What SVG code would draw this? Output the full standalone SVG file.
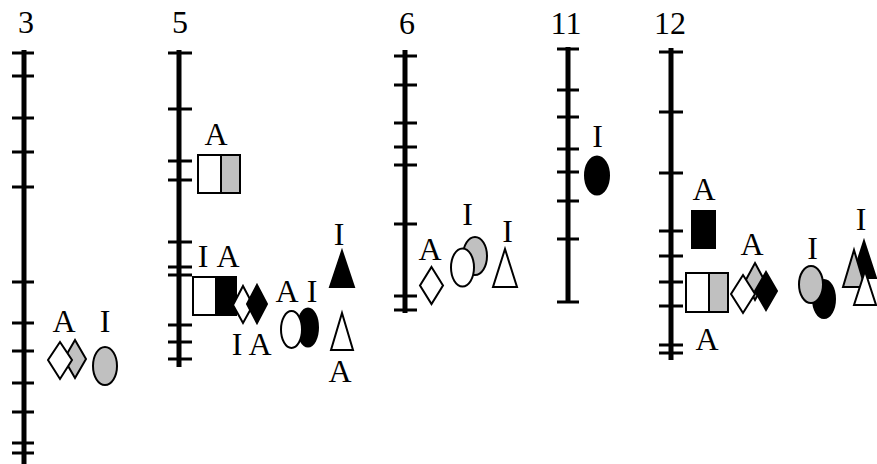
<svg xmlns="http://www.w3.org/2000/svg" width="877" height="464" viewBox="0 0 877 464">
<style>
text{font-family:"Liberation Serif","DejaVu Serif",serif;font-size:32px;fill:#000;text-anchor:middle}
.bar{stroke:#000;stroke-width:5;fill:none}
.tk{stroke:#000;stroke-width:3;fill:none}
.s{stroke:#000;stroke-width:2}
.w{fill:#fff}.g{fill:#c0c0c0}.b{fill:#000}
</style>
<rect width="877" height="464" fill="#fff"/>
<g id="chr3">
<text x="26" y="33">3</text>
<line class="bar" x1="24" y1="50" x2="24" y2="464"/>
<path class="tk" d="M12 53H34M12 76H34M12 118H34M12 152H34M12 187H34M12 282H34M12 323H34M12 351H34M12 383H34M12 412H34M12 443H34M12 453H34"/>
<text x="64" y="332">A</text>
<text x="105" y="332">I</text>
<path class="s g" d="M75 340L86 359L75 378L64 359Z"/>
<path class="s w" d="M60 342L72 360L60 379L48 360Z"/>
<ellipse class="s g" cx="105" cy="366" rx="12" ry="19"/>
</g>
<g id="chr5">
<text x="180" y="33">5</text>
<line class="bar" x1="179" y1="50" x2="179" y2="367"/>
<path class="tk" d="M168 53H192M168 109H192M168 161H192M168 180H192M168 242H192M168 267H192M168 275H192M168 325H192M168 342H192M168 359H192"/>
<text x="216" y="145">A</text>
<rect class="s w" x="198" y="155" width="23" height="38"/>
<rect class="s g" x="221" y="155" width="19" height="38"/>
<text x="203" y="267">I</text>
<text x="228" y="267">A</text>
<rect class="s w" x="193" y="277" width="23" height="38"/>
<rect class="s b" x="216" y="277" width="20" height="38"/>
<path class="s w" d="M243 286L253 305L243 323L233 305Z"/>
<path class="s b" d="M257 285L267 304L257 323L247 304Z"/>
<text x="237" y="355">I</text>
<text x="260" y="355">A</text>
<text x="287" y="302">A</text>
<text x="312" y="302">I</text>
<ellipse class="s b" cx="308" cy="327.5" rx="10" ry="19"/>
<ellipse class="s w" cx="291.5" cy="329.5" rx="10.5" ry="18.5"/>
<text x="339" y="245">I</text>
<path class="s b" d="M342 251L354 287H330Z"/>
<path class="s w" d="M342 313L353 350H331Z"/>
<text x="340" y="382">A</text>
</g>
<g id="chr6">
<text x="407" y="34">6</text>
<line class="bar" x1="405" y1="50" x2="405" y2="313"/>
<path class="tk" d="M394 56H417M394 85H417M394 123H417M394 147H417M394 165H417M394 224H417M394 296H417M394 310H417"/>
<text x="430" y="260">A</text>
<path class="s w" d="M431.5 267L443 285.5L431.5 304L420 285.5Z"/>
<text x="467.5" y="225">I</text>
<ellipse class="s g" cx="475" cy="256" rx="12" ry="19"/>
<ellipse class="s w" cx="462.5" cy="267.5" rx="11.5" ry="19"/>
<text x="507.5" y="242">I</text>
<path class="s w" d="M505 249L517 287H493Z"/>
</g>
<g id="chr11">
<text x="566" y="34">11</text>
<line class="bar" x1="568" y1="47" x2="568" y2="302"/>
<path class="tk" d="M557 49H579M557 90H579M557 117H579M557 149H579M557 172H579M557 201H579M557 239H579M557 302H579"/>
<text x="597.5" y="147">I</text>
<ellipse class="s b" cx="597" cy="175.5" rx="12" ry="19"/>
</g>
<g id="chr12">
<text x="670" y="34">12</text>
<line class="bar" x1="671" y1="48" x2="671" y2="360"/>
<path class="tk" d="M659 52H683M659 112H683M659 173H683M659 231H683M659 256H683M659 282H683M659 306H683M659 345H683M659 353H683"/>
<text x="704" y="200">A</text>
<rect class="b" x="691" y="210" width="25" height="39"/>
<rect class="s w" x="686" y="273" width="23" height="39"/>
<rect class="s g" x="709" y="273" width="19" height="39"/>
<text x="707" y="350">A</text>
<text x="752" y="255">A</text>
<path class="s g" d="M755 263L765 281.5L755 300L745 281.5Z"/>
<path class="s w" d="M743 275L755 294L743 313L731 294Z"/>
<path class="s b" d="M766 272L777 291L766 310L755 291Z"/>
<text x="812.5" y="259">I</text>
<ellipse class="s b" cx="824" cy="299" rx="11" ry="19"/>
<ellipse class="s g" cx="811" cy="284.5" rx="12" ry="18.5"/>
<text x="861" y="230">I</text>
<path class="s b" d="M864 241L876 278H852Z"/>
<path class="s g" d="M854 250L865 287H843Z"/>
<path class="s w" d="M865 271L876 305H854Z"/>
</g>
</svg>
